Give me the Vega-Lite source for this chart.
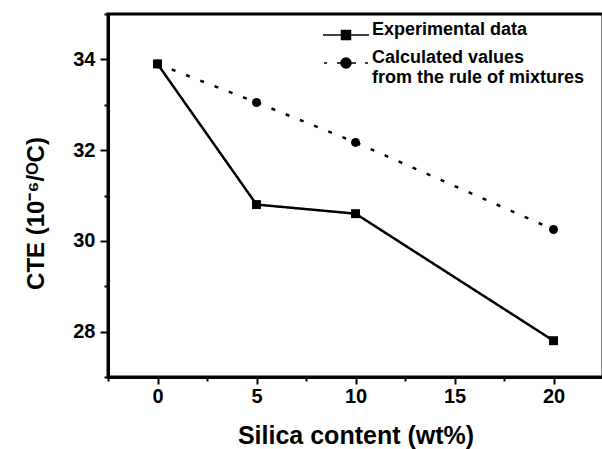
{
  "$schema": "https://vega.github.io/schema/vega-lite/v6.json",
  "width": 495,
  "height": 363,
  "autosize": {"type": "none"},
  "padding": {"left": 108, "top": 14, "right": 0, "bottom": 72},
  "background": "white",
  "config": {
    "font": "Liberation Sans",
    "view": {"stroke": "black", "strokeWidth": 3},
    "axis": {
      "domainColor": "black", "domainWidth": 3, "tickColor": "black", "tickWidth": 2,
      "labelFont": "Liberation Sans", "labelFontWeight": "bold", "labelFontSize": 20, "labelColor": "black",
      "titleFont": "Liberation Sans", "titleFontWeight": "bold", "titleFontSize": 24, "titleColor": "black",
      "grid": false
    },
    "legend": {
      "labelFont": "Liberation Sans", "labelFontWeight": "bold", "labelFontSize": 18, "labelColor": "black", "labelLimit": 400
    }
  },
  "data": {
    "values": [
      {"silica": 0, "cte": 33.9, "series": "Experimental data"},
      {"silica": 5, "cte": 30.8, "series": "Experimental data"},
      {"silica": 10, "cte": 30.6, "series": "Experimental data"},
      {"silica": 20, "cte": 27.8, "series": "Experimental data"},
      {"silica": 0, "cte": 33.9, "series": "Calculated values"},
      {"silica": 5, "cte": 33.05, "series": "Calculated values"},
      {"silica": 10, "cte": 32.17, "series": "Calculated values"},
      {"silica": 20, "cte": 30.25, "series": "Calculated values"}
    ]
  },
  "encoding": {
    "x": {
      "field": "silica", "type": "quantitative",
      "scale": {"domain": [-2.5, 22.5], "nice": false, "zero": false},
      "axis": {
        "title": "Silica content (wt%)",
        "titleFontSize": 25,
        "values": [-2.5, 0, 2.5, 5, 7.5, 10, 12.5, 15, 17.5, 20, 22.5],
        "labelExpr": "datum.value % 5 == 0 ? datum.label : ''",
        "labelFontWeight": "bold",
        "tickSize": {"condition": {"test": "datum.value % 5 == 0", "value": 7}, "value": 4},
        "labelPadding": 2,
        "titleBaseline": "alphabetic",
        "titleY": 66
      }
    },
    "y": {
      "field": "cte", "type": "quantitative",
      "scale": {"domain": [27, 35], "nice": false, "zero": false},
      "axis": {
        "title": "CTE (10⁻⁶/ᴼC)",
        "values": [27, 28, 29, 30, 31, 32, 33, 34, 35],
        "labelExpr": "datum.value % 2 == 0 ? datum.label : ''",
        "labelFontWeight": "bold",
        "tickSize": {"condition": {"test": "datum.value % 2 == 0", "value": 8}, "value": 4},
        "labelPadding": 5,
        "titleAngle": -90,
        "titleBaseline": "alphabetic",
        "titleX": -65,
        "titleY": 199
      }
    }
  },
  "layer": [
    {
      "mark": {"type": "line", "color": "black", "strokeWidth": 2.5},
      "encoding": {
        "detail": {"field": "series"},
        "strokeDash": {
          "field": "series", "type": "nominal",
          "scale": {"domain": ["Experimental data", "Calculated values"], "range": [[1, 0], [4, 11.3]]},
          "legend": null
        }
      }
    },
    {
      "mark": {"type": "point", "filled": true, "color": "black", "opacity": 1, "size": 80},
      "encoding": {
        "shape": {
          "field": "series", "type": "nominal",
          "scale": {"domain": ["Experimental data", "Calculated values"], "range": ["square", "circle"]},
          "legend": null
        }
      }
    },
    {
      "mark": {"type": "point", "filled": true, "fill": "black", "stroke": "black", "strokeWidth": 2.5, "opacity": 0, "size": 400},
      "encoding": {
        "shape": {
          "field": "series", "type": "nominal",
          "scale": {
            "domain": ["Experimental data", "Calculated values"],
            "range": [
              "M-2.3,0H2.3M-0.45,-0.45H0.45V0.45H-0.45Z",
              "M-2.2,0H-1.9M-0.9,0H1.0M1.9,0H2.2M0.5,0A0.5,0.5,0,1,1,-0.5,0A0.5,0.5,0,1,1,0.5,0Z"
            ]
          },
          "legend": {
            "title": null,
            "orient": "none",
            "legendX": 227,
            "legendY": 10,
            "padding": 0,
            "symbolSize": 400,
            "symbolOpacity": 1,
            "labelOffset": 15,
            "rowPadding": 6,
            "labelBaseline": "alphabetic",
            "labelExpr": "datum.value == 'Calculated values' ? ['Calculated values', 'from the rule of mixtures'] : datum.label",
            "encode": {
              "symbols": {"update": {"stroke": {"value": "black"}, "strokeWidth": {"value": 2.5}, "fill": {"value": "black"}, "opacity": {"value": 1}, "strokeOpacity": {"value": 1}, "fillOpacity": {"value": 1}}},
              "labels": {"update": {"dy": {"value": 6.5}, "lineHeight": {"value": 23}, "fontWeight": {"value": "bold"}}}
            }
          }
        }
      }
    }
  ],
  "resolve": {"scale": {"shape": "independent"}}
}
